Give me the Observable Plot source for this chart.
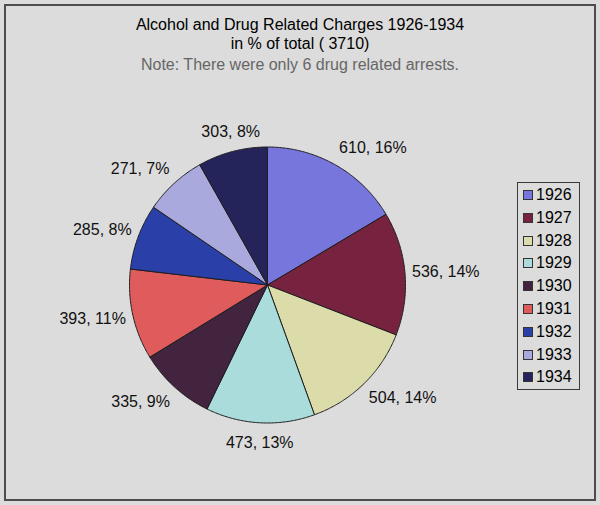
<!DOCTYPE html>
<html><head><meta charset="utf-8">
<script src="https://cdn.jsdelivr.net/npm/d3@7"></script>
<script src="https://cdn.jsdelivr.net/npm/@observablehq/plot@0.6"></script>
<style>
body{margin:0;background:#dcdcdc;font-family:"Liberation Sans",Arial,sans-serif;}
#wrap{position:relative;width:600px;height:505px;overflow:hidden;background:#dcdcdc;}
#frame{position:absolute;left:4px;top:4px;width:592px;height:497px;box-sizing:border-box;border:2px solid #4d4d4d;}
.t{position:absolute;left:0;width:600px;text-align:center;font-size:16px;line-height:20px;color:#000;white-space:nowrap;}
#chart{position:absolute;left:0;top:0;}
#legend{position:absolute;left:517px;top:182px;width:63px;height:208px;box-sizing:border-box;border:1px solid #3a3a3a;}
.item{position:absolute;left:5px;height:20px;line-height:20px;font-size:16px;color:#000;white-space:nowrap;}
.sw{position:absolute;left:0;top:5px;width:10px;height:10px;box-sizing:border-box;border:1px solid #333;}
.lab{position:absolute;left:13px;top:0;}
</style></head><body>
<div id="wrap">
  <div id="frame"></div>
  <div id="chart"></div>
  <div class="t" id="t1" style="top:15px"></div>
  <div class="t" id="t2" style="top:34px"></div>
  <div class="t" id="t3" style="top:55px;color:#666"></div>
  <div id="legend"></div>
</div>
<script>
// ---- data ----
const years = ["1926","1927","1928","1929","1930","1931","1932","1933","1934"];
const charges = [610, 536, 504, 473, 335, 393, 285, 271, 303];
const titleLines = ["Alcohol and Drug Related Charges 1926-1934", "in % of total ( 3710)"];
const noteLine = "Note: There were only 6 drug related arrests.";
const palette = ["#7676dc","#77233f","#dcdcaa","#aadcdc","#42243e","#e05b5b","#2b3fa9","#aaa9de","#25245a"];

// ---- layout constants ----
const W = 600, H = 505, CX = 267, CY = 284.5, R = 138;
const OFFX = 7, OFFY = 20;

document.getElementById("t1").textContent = titleLines[0];
document.getElementById("t2").textContent = titleLines[1];
document.getElementById("t3").textContent = noteLine;

const total = d3.sum(charges);
const arcs = d3.pie().sort(null).value(d => d)(charges);

// slice outlines as polygons in unit-circle coordinates
const poly = [];
arcs.forEach((a, i) => {
  const yr = years[i];
  poly.push({year: yr, x: 0, y: 0});
  const n = Math.max(2, Math.ceil((a.endAngle - a.startAngle) / 0.01));
  for (let k = 0; k <= n; k++) {
    const t = a.startAngle + (a.endAngle - a.startAngle) * k / n;
    poly.push({year: yr, x: Math.sin(t), y: Math.cos(t)});
  }
  poly.push({year: yr, x: 0, y: 0});
});

const labels = arcs.map((a, i) => {
  const m = (a.startAngle + a.endAngle) / 2;
  const s = Math.sin(m), c = Math.cos(m);
  return {
    year: years[i],
    label: `${charges[i]}, ${Math.round(charges[i] / total * 100)}%`,
    x: s * (R + OFFX) / R,
    y: c * (R + OFFY) / R,
    anchor: s > 0.3 ? "start" : s < -0.3 ? "end" : "middle"
  };
});

const textOpts = {x: "x", y: "y", text: "label", fontSize: 16, fill: "#111"};

const chart = Plot.plot({
  width: W, height: H, margin: 0,
  x: {domain: [-CX / R, (W - CX) / R], range: [0, W], axis: null},
  y: {domain: [-(H - CY) / R, CY / R], range: [H, 0], axis: null},
  color: {domain: years, range: palette},
  style: {background: "transparent", fontFamily: '"Liberation Sans", Arial, sans-serif', fontSize: "16px", color: "#000"},
  marks: [
    Plot.line(poly, {x: "x", y: "y", z: "year", fill: "year", stroke: "#1e1e1e", strokeWidth: 1, strokeLinejoin: "round"}),
    Plot.text(labels.filter(d => d.anchor === "start"), {...textOpts, textAnchor: "start"}),
    Plot.text(labels.filter(d => d.anchor === "end"), {...textOpts, textAnchor: "end"}),
    Plot.text(labels.filter(d => d.anchor === "middle"), {...textOpts, textAnchor: "middle"})
  ]
});
document.getElementById("chart").appendChild(chart);

// legend from the plot's color scale
const cs = chart.scale("color");
const leg = document.getElementById("legend");
years.forEach((yr, i) => {
  const it = document.createElement("div");
  it.className = "item";
  it.style.top = (2 + i * 22.8) + "px";
  const sw = document.createElement("div");
  sw.className = "sw";
  sw.style.background = cs.apply ? cs.apply(yr) : cs.range[i];
  const lb = document.createElement("div");
  lb.className = "lab";
  lb.textContent = yr;
  it.appendChild(sw); it.appendChild(lb);
  leg.appendChild(it);
});
</script>
</body></html>
